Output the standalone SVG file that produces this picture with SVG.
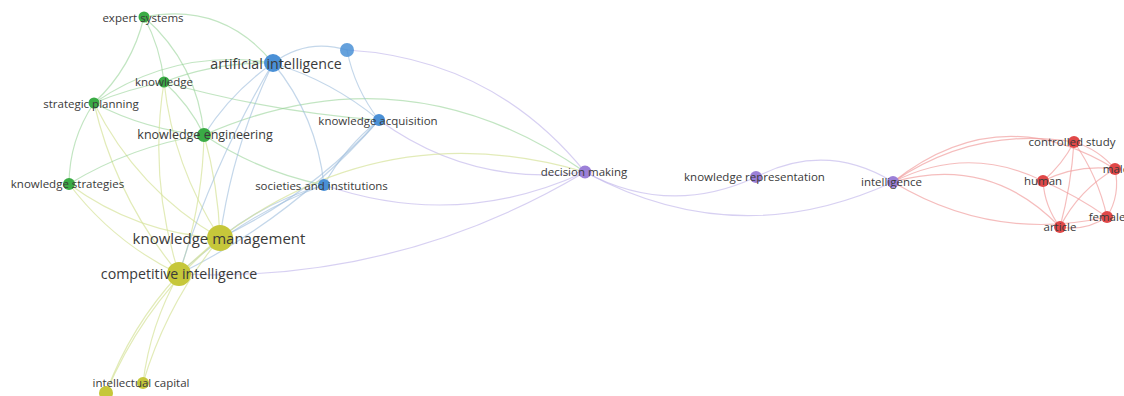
<svg xmlns="http://www.w3.org/2000/svg" width="1124" height="396" viewBox="0 0 1124 396">
<style>
.e{fill:none;stroke-width:1.2;stroke-linecap:round}
.eg{stroke:#8fd08f;opacity:.55}
.eb{stroke:#9dbcdc;opacity:.6}
.ey{stroke:#d6e29a;opacity:.7}
.ep{stroke:#bcb0ea;opacity:.6}
.er{stroke:#f09a9a;opacity:.65}
.ng{fill:#3aab45}
.nb{fill:#4a90d6}
.ny{fill:#c6c73a}
.np{fill:#9c80d8}
.nr{fill:#e04848}
text{font-family:"Open Sans","Liberation Sans",sans-serif;fill:#3a3a3a;text-anchor:middle;dominant-baseline:central;font-size:11.5px}
.l2{font-size:12.5px}
.l3{font-size:14.2px}
.l4{font-size:15px}
</style>
<rect width="1124" height="396" fill="#ffffff"/>
<g id="connectors">
<path class="e eg" d="M144,17 Q222.3,1.3 273,63"/>
<path class="e eg" d="M144,17 Q160.5,47.5 164,82"/>
<path class="e eg" d="M144,17 Q131.9,67.5 94,103"/>
<path class="e eg" d="M144,17 Q197.6,64 204,135"/>
<path class="e eg" d="M94,103 Q175.5,47.2 273,63"/>
<path class="e eg" d="M94,103 Q128,89 164,82"/>
<path class="e eg" d="M204,135 Q145.8,130 94,103"/>
<path class="e eg" d="M69,184 Q69.3,139.8 94,103"/>
<path class="e ey" d="M220,238 Q136.75,189.4 94,103"/>
<path class="e ey" d="M179,274 Q116,198.7 94,103"/>
<path class="e eg" d="M69,184 Q131.6,146 204,135"/>
<path class="e ey" d="M220,238 Q136.4,233.65 69,184"/>
<path class="e ey" d="M179,274 Q113.2,242.2 69,184"/>
<path class="e eg" d="M164,82 Q189.3,104.5 204,135"/>
<path class="e ey" d="M220,238 Q173.3,166.7 164,82"/>
<path class="e ey" d="M179,274 Q148.5,179.8 164,82"/>
<path class="e ey" d="M204,135 Q218.2,185.5 220,238"/>
<path class="e ey" d="M204,135 Q202.6,206.5 179,274"/>
<path class="e eg" d="M324,185 Q259,172 204,135"/>
<path class="e eb" d="M204,135 Q231.3,92.1 273,63"/>
<path class="e eg" d="M164,82 Q216.6,61.6 273,63"/>
<path class="e eg" d="M379,120 Q269.6,111.75 164,82"/>
<path class="e eg" d="M204,135 Q404.9,46.8 585,172"/>
<path class="e eb" d="M273,63 Q306.75,38 347,50"/>
<path class="e eb" d="M273,63 Q331.7,80.9 379,120"/>
<path class="e eb" d="M273,63 Q316.8,116.35 324,185"/>
<path class="e eb" d="M220,238 Q232.5,146.3 273,63"/>
<path class="e eb" d="M179,274 Q213.3,162.9 273,63"/>
<path class="e eb" d="M379,120 Q354.6,88.8 347,50"/>
<path class="e eb" d="M324,185 Q345,147 379,120"/>
<path class="e eb" d="M220,238 Q266.7,201.1 324,185"/>
<path class="e eb" d="M179,274 Q242.6,215 324,185"/>
<path class="e eb" d="M379,120 Q311.3,194.9 220,238"/>
<path class="e eb" d="M379,120 Q294.4,217 179,274"/>
<path class="e ep" d="M347,50 Q492.8,58.6 585,172"/>
<path class="e ep" d="M585,172 Q471.6,187.2 379,120"/>
<path class="e ep" d="M585,172 Q457.1,230.7 324,185"/>
<path class="e ey" d="M220,238 Q386,113.75 585,172"/>
<path class="e ep" d="M585,172 Q397.3,283.9 179,274"/>
<path class="e ep" d="M756,177 Q669.25,217.25 585,172"/>
<path class="e ep" d="M893,182 Q736.5,254 585,172"/>
<path class="e ep" d="M756,177 Q825.9,141.1 893,182"/>
<path class="e er" d="M893,182 Q999.45,97.8 1115,169"/>
<path class="e er" d="M893,182 Q975.5,125.8 1074,142"/>
<path class="e er" d="M893,182 Q967.75,144 1043,181"/>
<path class="e er" d="M893,182 Q990,154.4 1060,227"/>
<path class="e er" d="M1107,217 Q993,242.3 893,182"/>
<path class="e er" d="M1074,142 Q1062.4,164.6 1043,181"/>
<path class="e er" d="M1074,142 Q1071.25,185.2 1060,227"/>
<path class="e er" d="M1074,142 Q1098,176.2 1107,217"/>
<path class="e er" d="M1074,142 Q1098.55,149.35 1115,169"/>
<path class="e er" d="M1043,181 Q1077.2,164.2 1115,169"/>
<path class="e er" d="M1043,181 Q1076.8,195.8 1107,217"/>
<path class="e er" d="M1060,227 Q1044.6,206.5 1043,181"/>
<path class="e er" d="M1060,227 Q1078.8,189.75 1115,169"/>
<path class="e er" d="M1107,217 Q1085.5,231.4 1060,227"/>
<path class="e er" d="M1115,169 Q1120.6,194.6 1107,217"/>
<path class="e ey" d="M220,238 Q199,255 179,274"/>
<path class="e ey" d="M143,383 Q150.1,324.9 179,274"/>
<path class="e ey" d="M106,393 Q130.6,326.2 179,274"/>
<path class="e ey" d="M106,393 Q144.4,301.8 220,238"/>
<path class="e ey" d="M143,383 Q167,302.8 220,238"/>
</g>
<g id="n-expert-systems"><circle class="ng" cx="144" cy="17" r="5.5"/><text x="143" y="17">expert systems</text></g>
<g id="n-artificial-intelligence"><circle class="nb" cx="273" cy="63" r="9"/><text class="l3" x="276" y="63">artificial intelligence</text></g>
<g id="n-blue-unlabeled"><circle class="nb" cx="347" cy="50" r="7" opacity=".85"/></g>
<g id="n-knowledge"><circle class="ng" cx="164" cy="82" r="5.5"/><text x="164" y="81">knowledge</text></g>
<g id="n-strategic-planning"><circle class="ng" cx="94" cy="103" r="5.5"/><text x="91" y="103">strategic planning</text></g>
<g id="n-knowledge-engineering"><circle class="ng" cx="204" cy="135" r="7"/><text class="l2" x="205" y="134">knowledge engineering</text></g>
<g id="n-knowledge-acquisition"><circle class="nb" cx="379" cy="120" r="6"/><text x="378" y="120">knowledge acquisition</text></g>
<g id="n-knowledge-strategies"><circle class="ng" cx="69" cy="184" r="6"/><text x="67.5" y="183">knowledge strategies</text></g>
<g id="n-societies-and-institutions"><circle class="nb" cx="324" cy="185" r="6"/><text x="321.5" y="185">societies and institutions</text></g>
<g id="n-knowledge-management"><circle class="ny" cx="220" cy="238" r="13"/><text class="l4" x="219" y="238">knowledge management</text></g>
<g id="n-competitive-intelligence"><circle class="ny" cx="179" cy="274" r="12"/><text class="l3" x="179" y="273">competitive intelligence</text></g>
<g id="n-intellectual-capital"><circle class="ny" cx="143" cy="383" r="6"/><text x="141" y="382">intellectual capital</text></g>
<g id="n-yellow-unlabeled"><circle class="ny" cx="106" cy="393" r="7"/></g>
<g id="n-decision-making"><circle class="np" cx="585" cy="172" r="6.5"/><text x="584" y="171">decision making</text></g>
<g id="n-knowledge-representation"><circle class="np" cx="756" cy="177" r="6"/><text x="754.5" y="176">knowledge representation</text></g>
<g id="n-intelligence"><circle class="np" cx="893" cy="182" r="6"/><text x="891.5" y="181">intelligence</text></g>
<g id="n-controlled-study"><circle class="nr" cx="1074" cy="142" r="6"/><text x="1072" y="141">controlled study</text></g>
<g id="n-male"><circle class="nr" cx="1115" cy="169" r="6"/><text x="1116" y="168">male</text></g>
<g id="n-human"><circle class="nr" cx="1043" cy="181" r="6"/><text x="1043" y="180">human</text></g>
<g id="n-female"><circle class="nr" cx="1107" cy="217" r="6"/><text x="1107" y="216">female</text></g>
<g id="n-article"><circle class="nr" cx="1060" cy="227" r="6"/><text x="1060" y="226">article</text></g>
</svg>
